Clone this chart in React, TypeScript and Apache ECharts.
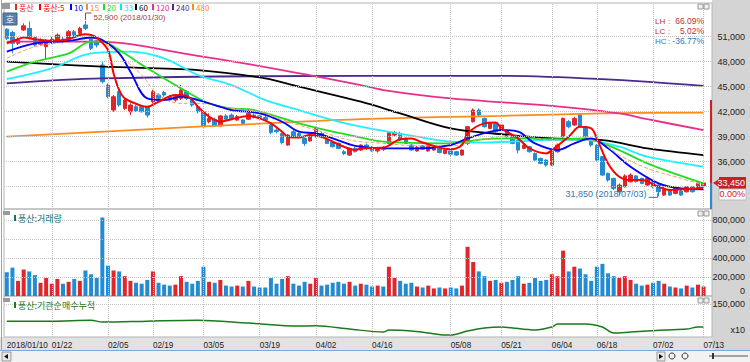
import React, { useEffect, useRef } from "react";
import * as echarts from "echarts";

// ---------- data ----------
const dates: string[] = [
  "2018/01/10","2018/01/11","2018/01/12","2018/01/15","2018/01/16","2018/01/17","2018/01/18","2018/01/19","2018/01/22","2018/01/23",
  "2018/01/24","2018/01/25","2018/01/26","2018/01/29","2018/01/30","2018/01/31","2018/02/01","2018/02/02","2018/02/05","2018/02/06",
  "2018/02/07","2018/02/08","2018/02/09","2018/02/12","2018/02/13","2018/02/14","2018/02/19","2018/02/20","2018/02/21","2018/02/22",
  "2018/02/23","2018/02/26","2018/02/27","2018/02/28","2018/03/02","2018/03/05","2018/03/06","2018/03/07","2018/03/08","2018/03/09",
  "2018/03/12","2018/03/13","2018/03/14","2018/03/15","2018/03/16","2018/03/19","2018/03/20","2018/03/21","2018/03/22","2018/03/23",
  "2018/03/26","2018/03/27","2018/03/28","2018/03/29","2018/03/30","2018/04/02","2018/04/03","2018/04/04","2018/04/05","2018/04/06",
  "2018/04/09","2018/04/10","2018/04/11","2018/04/12","2018/04/13","2018/04/16","2018/04/17","2018/04/18","2018/04/19","2018/04/20",
  "2018/04/23","2018/04/24","2018/04/25","2018/04/26","2018/04/27","2018/04/30","2018/05/02","2018/05/03","2018/05/04","2018/05/08",
  "2018/05/09","2018/05/10","2018/05/11","2018/05/14","2018/05/15","2018/05/16","2018/05/17","2018/05/18","2018/05/21","2018/05/23",
  "2018/05/24","2018/05/25","2018/05/28","2018/05/29","2018/05/30","2018/05/31","2018/06/01","2018/06/04","2018/06/05","2018/06/07",
  "2018/06/08","2018/06/11","2018/06/12","2018/06/14","2018/06/15","2018/06/18","2018/06/19","2018/06/20","2018/06/21","2018/06/22",
  "2018/06/25","2018/06/26","2018/06/27","2018/06/28","2018/06/29","2018/07/02","2018/07/03","2018/07/04","2018/07/05","2018/07/06",
  "2018/07/09","2018/07/10","2018/07/11","2018/07/12","2018/07/13"
];

const opens = [
  51900,51500,50200,51800,52000,50900,50100,49800,50300,50500,50700,50800,51600,51400,52400,50700,50500,47600,45200,42200,
  44400,42400,42000,42600,42600,42600,43200,44000,44300,43800,43400,43600,44400,43400,42600,42000,40800,41100,40300,41500,
  41600,41000,41000,41100,41600,41500,41300,40400,39800,39400,38000,39600,39400,38800,38500,39000,39400,38700,38300,38200,
  37200,36800,37600,37400,38000,37700,37300,37700,38200,39200,39400,38800,38000,37300,37900,37300,37400,37600,37000,37300,
  37200,36800,38200,40800,42200,41200,40000,40600,39800,39800,39000,38600,37600,37800,37000,36400,36200,35600,37200,39000,
  40800,40400,41600,40200,38600,38000,36600,34600,34000,32400,33000,33600,34300,34000,33200,33600,33200,32000,32600,32200,
  32500,32400,33000,32800,33100
];
const closes = [
  50800,50200,50600,52300,50900,50000,50500,50500,50700,51200,50500,51600,51200,52000,52000,49600,50000,45600,43800,43800,
  42800,43400,42800,42100,42000,41600,44400,43600,44000,43400,43800,44600,43600,42800,42000,40300,41200,40300,41500,41100,
  41200,41400,40600,41800,41300,41300,41000,39500,39600,38300,39200,39000,39000,38200,39200,40000,39000,38200,37800,37600,
  37000,37600,37200,38000,37600,37300,37700,37500,39500,39500,38600,38200,37400,37700,37500,37900,37700,37100,37400,36900,
  36800,37400,40200,42200,41600,40200,40600,39600,40400,39000,38200,37400,38000,37200,36200,35800,35600,37200,38000,41200,
  40200,41200,40200,39000,38000,36200,34400,33800,32800,33200,34300,34400,33600,33400,34000,33000,32400,32800,32000,32800,
  32000,33000,32400,33450,33450
];
const lows = [
  50600,49000,50000,51700,50700,49800,49900,48300,50100,50300,50200,50600,51000,51200,51800,49400,49700,45400,43600,42000,
  42600,42200,41600,42000,41900,41300,43000,43400,43800,43200,43200,43400,43400,42600,41800,40100,40600,40200,40200,41000,
  41100,40900,40500,41000,41200,41100,40800,39300,39400,38100,37900,38900,38800,37900,38400,38900,38800,38100,37700,37500,
  36800,36700,37100,37300,37400,37200,37100,37300,38100,39000,38500,38100,37300,37200,37400,37200,37300,37000,36900,36600,
  36700,36700,38000,40700,41400,40100,39900,39500,39700,38900,38100,37000,37500,37100,36100,35700,35400,35500,37100,38900,
  40000,40300,40100,38900,37800,36000,34300,33600,32600,32000,32900,33500,33500,33300,33100,32800,31850,31900,31900,32100,
  31900,32300,32300,32700,33000
];
const highs = [
  52000,51700,50900,52600,52800,51100,50800,50700,51000,51400,51000,51800,51800,52200,52900,51000,50700,48000,45400,44000,
  44600,43600,43000,42800,42800,42700,44600,44200,44500,44000,44000,45200,44600,43600,42800,42200,41800,41300,41600,41700,
  41800,41600,41100,42200,41800,41700,41500,40600,40000,39500,39300,39800,39500,38900,39300,40200,39600,38900,38500,38300,
  37400,37700,37800,38100,38200,37900,37800,37900,39600,39700,39600,38900,38100,37900,38000,38000,37800,37700,37500,37400,
  37300,37500,40300,42400,42400,41300,40800,40700,40500,39900,39100,38700,38100,37900,37100,36500,36300,37300,38200,41300,
  41000,41400,41800,40300,38700,38100,36700,34700,34100,33400,34500,34600,34400,34100,34200,33800,33300,33000,32700,32900,
  32600,33100,33100,33500,33600
];
const volumes = [
  250000,300000,160000,280000,260000,220000,140000,190000,130000,180000,130000,150000,180000,160000,270000,230000,190000,
  830000,
  320000,270000,260000,210000,160000,140000,130000,170000,260000,140000,120000,110000,120000,210000,150000,130000,160000,310000,
  150000,140000,170000,110000,100000,110000,100000,160000,100000,90000,90000,190000,130000,180000,210000,130000,110000,150000,
  130000,190000,110000,120000,140000,150000,130000,150000,110000,130000,
  120000,100000,110000,100000,310000,190000,160000,130000,140000,100000,90000,110000,80000,90000,80000,90000,80000,110000,
  520000,360000,260000,210000,160000,170000,140000,150000,170000,210000,130000,140000,190000,160000,170000,230000,210000,
  480000,260000,310000,290000,230000,160000,310000,340000,240000,210000,190000,210000,170000,130000,110000,120000,140000,
  160000,130000,100000,90000,80000,110000,90000,120000,100000
];

// moving averages at key trading days: [dayIndex, price]
const ma5: [number, number][] = [[0,50200],[2,50700],[3,50900],[5,50700],[8,50500],[11,50700],[13,51200],[14,51300],[15,51200],[16,50900],[18,49400],[19,46600],[20,44600],[21,43600],[24,42700],[25,42600],[27,43200],[30,44000],[32,43900],[33,43400],[34,42600],[36,41400],[38,40800],[40,41100],[43,41500],[45,41200],[47,40600],[49,39600],[50,39000],[52,38900],[54,39200],[56,39000],[58,38400],[60,37800],[62,37400],[63,37600],[67,37700],[70,38700],[72,38800],[74,38300],[79,37500],[81,38000],[82,39400],[85,40600],[87,40700],[88,40000],[91,38800],[93,37600],[96,37000],[97,37400],[100,39000],[102,40200],[104,40000],[105,38800],[107,35800],[109,34200],[111,33800],[113,33800],[116,33000],[118,32600],[120,32700],[123,32800],[124,32900]];
const ma10: [number, number][] = [[0,49200],[5,50200],[11,50500],[15,50900],[17,50600],[20,49000],[22,46800],[25,43600],[28,43400],[31,43800],[34,43400],[37,42800],[40,42200],[45,41800],[49,40800],[52,39600],[55,39400],[58,38800],[62,37900],[67,37600],[73,37600],[79,38000],[82,38800],[88,39800],[91,39600],[94,38200],[98,37400],[101,38200],[104,38800],[107,37600],[111,35400],[116,33400],[120,32800],[124,32700]];
const ma15: [number, number][] = [[0,48400],[5,49800],[11,50400],[15,50800],[17,50400],[20,48800],[24,46400],[27,44000],[31,43000],[34,43000],[40,42400],[45,42000],[50,40800],[56,39600],[61,38600],[67,38200],[74,37900],[79,37900],[84,38600],[91,39200],[97,38600],[102,38600],[106,38200],[109,36800],[114,35200],[120,34000],[124,33200]];
const ma20: [number, number][] = [[0,46800],[5,48000],[11,49000],[15,50400],[17,50400],[20,49400],[25,47200],[31,44800],[36,43000],[40,42400],[44,42200],[52,40600],[58,39600],[61,39200],[67,38400],[79,38200],[85,38700],[91,38800],[97,38700],[103,38800],[106,38200],[109,37400],[114,35800],[120,34300],[124,33400]];
const ma33: [number, number][] = [[0,45900],[8,47200],[15,49000],[22,49200],[28,48400],[34,46400],[40,45200],[46,43400],[52,42200],[58,41000],[63,40200],[73,39000],[79,38400],[85,38300],[97,38600],[103,38600],[109,37800],[114,36600],[124,35400]];
const ma60: [number, number][] = [[0,48000],[17,47400],[34,47000],[46,46000],[52,45000],[63,43200],[70,41800],[79,40000],[88,39300],[97,38800],[106,38600],[114,37600],[124,36800]];
const ma120: [number, number][] = [[0,50400],[16,50400],[34,48700],[49,47000],[63,45200],[67,44600],[79,43600],[97,42700],[109,41800],[114,41100],[124,39800]];
const ma240: [number, number][] = [[0,45400],[17,46000],[63,46300],[88,46300],[106,45900],[124,45100]];
const ma480: [number, number][] = [[0,39000],[34,40200],[63,41100],[88,41500],[106,41800],[124,41900]];

// institutional cumulative net buying (x10), key days
const instCum: [number, number][] = [[0,72000],[8,72000],[15,76500],[17,67500],[25,72000],[34,76500],[43,63000],[52,49500],[55,50900],[61,36000],[67,22500],[68,31500],[72,27000],[75,18000],[78,9000],[79,9000],[82,27000],[85,40500],[88,45000],[94,31500],[97,45000],[98,58500],[103,58500],[106,45000],[108,18000],[111,22500],[117,31500],[121,36000],[123,45000],[124,45000]];

const priceTicks = [36000, 39000, 42000, 45000, 48000, 51000];
const priceGridLines = [33000, 36000, 39000, 42000, 45000, 48000, 51000];
const volumeTicks = [200000, 400000, 600000, 800000];
const volumeZeroLabel = 0;
const instTicks = [150000];
const dateLabelIdx = [0, 8, 18, 26, 35, 45, 55, 65, 79, 88, 97, 105, 115, 124];

const highIdx = 14, highVal = 52900;
const lowIdx = 116, lowVal = 31850;
const lastClose = 33450;
const rangeStats = [
  { k: "LH", v: "66.09%" },
  { k: "LC", v: "5.02%" },
  { k: "HC", v: "-36.77%" },
];

const legendItems = [
  { t: "풍산", c: "#e0262b" },
  { t: "풍산:5", c: "#ff0000" },
  { t: "10", c: "#0000ff" },
  { t: "15", c: "#f08a3c" },
  { t: "20", c: "#22dd22" },
  { t: "33", c: "#11e5f0" },
  { t: "60", c: "#000000" },
  { t: "120", c: "#e8308a" },
  { t: "240", c: "#4a2a8a" },
  { t: "480", c: "#ff8c1a" },
];

const RED = "#e0262b";
const BLUE = "#238bd1";
const NUM_FONT = "Liberation Sans";
const KR_FONT = "Noto Sans CJK KR";

const fmt = (v: number) => v.toLocaleString("en-US");

export default function App() {
  const ref = useRef<HTMLDivElement>(null);

  useEffect(() => {
    const chart = echarts.init(ref.current!, null, { renderer: "svg" });
    const cats = [...dates, ""];
    const candleData = dates.map((_, i) => [opens[i], closes[i], lows[i], highs[i]]);
    const volData = volumes.map((v, i) => ({
      value: v,
      itemStyle: { color: closes[i] >= opens[i] ? RED : BLUE },
    }));
    const vLines = dateLabelIdx.filter((i) => i > 0).map((i) => ({ xAxis: dates[i] }));
    const gridLine = (extra: any[]) => ({
      silent: true,
      symbol: ["none", "none"],
      label: { show: false },
      emphasis: { disabled: true },
      animation: false,
      lineStyle: { color: "#c4c4c4", type: "dotted", width: 1 },
      data: [...vLines, ...extra],
    });
    const maLine = (name: string, data: [number, number][], color: string, width = 1.8, dashed = false, smooth: number | boolean = 0.35) => ({
      name,
      type: "line",
      xAxisIndex: 0,
      yAxisIndex: 0,
      data,
      showSymbol: false,
      smooth,
      z: 4,
      lineStyle: { color, width, type: dashed ? "dashed" : "solid" },
      silent: true,
    });
    const gridBase = { left: 4, right: 38, show: true, borderColor: "#b4b4b4", borderWidth: 1 };
    const yBase = {
      type: "value",
      position: "right",
      scale: true,
      splitLine: { show: false },
      axisLine: { show: false },
      axisTick: { show: false },
    };
    const yLabel = (vals: number[]) => ({
      customValues: vals,
      formatter: (v: number) => fmt(v),
      align: "right",
      margin: 33,
      fontSize: 9,
      fontFamily: NUM_FONT,
      color: "#222",
    });

    chart.setOption({
      animation: false,
      textStyle: { fontFamily: NUM_FONT },
      grid: [
        { ...gridBase, top: 3, height: 206 },
        { ...gridBase, top: 209, height: 87 },
        { ...gridBase, top: 296, height: 41 },
      ],
      xAxis: [0, 1, 2].map((g) => ({
        type: "category",
        gridIndex: g,
        data: cats,
        boundaryGap: true,
        axisLine: { show: false },
        axisTick: { show: false },
        splitLine: { show: false },
        axisLabel:
          g === 2
            ? {
                show: true,
                interval: (idx: number) => dateLabelIdx.includes(idx),
                formatter: (v: string, idx: number) => (idx === 0 ? v : v.slice(5)),
                align: "left",
                margin: 4,
                fontSize: 8.2,
                fontFamily: NUM_FONT,
                color: "#222",
              }
            : { show: false },
      })),
      yAxis: [
        { ...yBase, gridIndex: 0, min: 30330, max: 55040, axisLabel: yLabel(priceTicks) },
        { ...yBase, gridIndex: 1, min: 0, max: 920000, axisLabel: yLabel(volumeTicks) },
        { ...yBase, gridIndex: 2, min: 0, max: 186000, axisLabel: yLabel(instTicks) },
      ],
      series: [
        {
          name: "풍산",
          type: "candlestick",
          xAxisIndex: 0,
          yAxisIndex: 0,
          data: candleData,
          barWidth: 4,
          z: 3,
          silent: true,
          itemStyle: { color: RED, color0: BLUE, borderColor: RED, borderColor0: BLUE, borderWidth: 1 },
          markLine: gridLine(priceGridLines.map((v) => ({ yAxis: v }))),
        },
        maLine("480", ma480, "#ff8c1a"),
        maLine("240", ma240, "#4a2a8a"),
        maLine("120", ma120, "#e8308a"),
        maLine("60", ma60, "#000000"),
        maLine("33", ma33, "#22eeff"),
        maLine("20", ma20, "#22dd22"),
        maLine("15", ma15, "#f4a070", 1, true),
        maLine("10", ma10, "#0000ff"),
        maLine("풍산:5", ma5, "#ff0000", 2),
        {
          name: "거래량",
          type: "bar",
          xAxisIndex: 1,
          yAxisIndex: 1,
          data: volData,
          barWidth: 4,
          silent: true,
          markLine: gridLine(volumeTicks.map((v) => ({ yAxis: v }))),
        },
        {
          name: "기관순매수누적",
          type: "line",
          xAxisIndex: 2,
          yAxisIndex: 2,
          data: instCum,
          showSymbol: false,
          smooth: 0.3,
          silent: true,
          lineStyle: { color: "#1b7a1b", width: 1.5 },
          markLine: gridLine(instTicks.map((v) => ({ yAxis: v }))),
        },
      ],
    });

    const toPx = (i: number, v: number) =>
      chart.convertToPixel({ gridIndex: 0 } as any, [dates[i], v]) as number[];
    const [hx, hy] = toPx(highIdx, highVal);
    const [lx, ly] = toPx(lowIdx, lowVal);
    const [, cy] = toPx(124, lastClose);

    const g: any[] = [];
    // backgrounds
    g.push({ type: "rect", z: -10, shape: { x: 712, y: 0, width: 38, height: 351 }, style: { fill: "#d4d4d4" } });
    g.push({ type: "rect", z: -10, shape: { x: 0, y: 337, width: 712, height: 14 }, style: { fill: "#e2e2e2" } });
    g.push({ type: "rect", z: -10, shape: { x: 0, y: 351, width: 750, height: 11 }, style: { fill: "#f2f2f2" } });
    g.push({ type: "line", z: 50, shape: { x1: 1.5, y1: 0, x2: 1.5, y2: 351 }, style: { stroke: "#7fa7d8", lineWidth: 1 } });
    g.push({ type: "line", z: 50, shape: { x1: 0, y1: 350.5, x2: 750, y2: 350.5 }, style: { stroke: "#7fa7d8", lineWidth: 1 } });
    // scrollbar controls
    g.push({ type: "rect", z: 50, shape: { x: 2, y: 352, width: 9, height: 9 }, style: { fill: "#e8e8e8", stroke: "#999", lineWidth: 1 } });
    g.push({ type: "polygon", z: 51, shape: { points: [[4, 356.5], [8, 354], [8, 359]] }, style: { fill: "#111" } });
    g.push({ type: "rect", z: 50, shape: { x: 657, y: 352, width: 8, height: 9 }, style: { fill: "#e8e8e8", stroke: "#999", lineWidth: 1 } });
    g.push({ type: "polygon", z: 51, shape: { points: [[663, 356.5], [659, 354], [659, 359]] }, style: { fill: "#111" } });
    g.push({ type: "circle", z: 50, shape: { cx: 672, cy: 356, r: 3 }, style: { fill: "none", stroke: "#333", lineWidth: 1 } });
    g.push({ type: "circle", z: 50, shape: { cx: 685, cy: 356, r: 3 }, style: { fill: "none", stroke: "#333", lineWidth: 1 } });
    g.push({ type: "line", z: 50, shape: { x1: 709, y1: 356, x2: 748, y2: 356 }, style: { stroke: "#555", lineWidth: 1 } });
    g.push({ type: "rect", z: 51, shape: { x: 712, y: 353, width: 2, height: 6 }, style: { fill: "#333" } });
    // legend
    g.push({ type: "rect", z: 50, shape: { x: 2, y: 3, width: 8, height: 6 }, style: { fill: "#9a9a9a" } });
    const legendX = [15, 39, 70, 86, 103, 120, 135, 152, 172, 192];
    legendItems.forEach((it, k) => {
      const x = legendX[k];
      g.push({ type: "rect", z: 50, shape: { x, y: 4, width: 2, height: 6 }, style: { fill: it.c } });
      g.push({
        type: "text", z: 50, x: x + 4, y: 7,
        style: { text: it.t, fill: it.c, fontSize: 8, fontFamily: KR_FONT, verticalAlign: "middle", align: "left" },
      });
    });
    // 호 box
    g.push({ type: "rect", z: 50, shape: { x: 3, y: 13, width: 14, height: 12 }, style: { fill: "#5b7fa8", stroke: "#3e5f86", lineWidth: 1 } });
    g.push({ type: "text", z: 51, x: 10, y: 19.5, style: { text: "호", fill: "#fff", fontSize: 9, fontFamily: KR_FONT, align: "center", verticalAlign: "middle" } });
    // high annotation
    g.push({ type: "polyline", z: 50, shape: { points: [[hx, hy - 1], [hx, 13], [hx + 6, 13]] }, style: { stroke: "#b03a3a", lineWidth: 1, fill: "none" } });
    g.push({ type: "text", z: 50, x: hx + 8, y: 17.5, style: { text: `${fmt(highVal)} (${dates[highIdx]})`, fill: "#b03a3a", fontSize: 8, fontFamily: NUM_FONT, verticalAlign: "middle" } });
    // low annotation
    g.push({ type: "polyline", z: 50, shape: { points: [[lx - 10, ly + 1], [lx - 1, ly + 1], [lx - 1, ly - 3]] }, style: { stroke: "#2a7ab8", lineWidth: 1, fill: "none" } });
    g.push({ type: "text", z: 50, x: lx - 12, y: ly - 2, style: { text: `${fmt(lowVal)} (${dates[lowIdx]})`, fill: "#2a7ab8", fontSize: 9, fontFamily: NUM_FONT, align: "right", verticalAlign: "middle" } });
    // LH / LC / HC
    rangeStats.forEach((s, k) => {
      const col = k < 2 ? "#c03030" : "#2a7ab8";
      const y = 21 + k * 10;
      g.push({ type: "text", z: 50, x: 655, y, style: { text: s.k, fill: col, fontSize: 8, fontFamily: NUM_FONT, verticalAlign: "middle" } });
      g.push({ type: "text", z: 50, x: 668, y, style: { text: ":", fill: col, fontSize: 8, fontFamily: NUM_FONT, verticalAlign: "middle" } });
      g.push({ type: "text", z: 50, x: 704, y, style: { text: s.v, fill: col, fontSize: 8.5, fontFamily: NUM_FONT, align: "right", verticalAlign: "middle" } });
    });
    // panel buttons
    [4, 211, 298].forEach((y) => {
      g.push({ type: "rect", z: 50, shape: { x: 698, y, width: 5, height: 5 }, style: { fill: "#eee", stroke: "#999", lineWidth: 1 } });
      g.push({ type: "rect", z: 50, shape: { x: 704, y, width: 5, height: 5 }, style: { fill: "#eee", stroke: "#999", lineWidth: 1 } });
    });
    // volume panel title
    g.push({ type: "rect", z: 50, shape: { x: 3, y: 211, width: 7, height: 4 }, style: { fill: "#9a9a9a" } });
    g.push({ type: "rect", z: 50, shape: { x: 14, y: 215, width: 2, height: 6 }, style: { fill: "#137070" } });
    g.push({ type: "text", z: 50, x: 18, y: 218, style: { text: "풍산:거래량", fill: "#137070", fontSize: 9, fontFamily: KR_FONT, verticalAlign: "middle" } });
    g.push({ type: "text", z: 50, x: 745, y: 291, style: { text: fmt(volumeZeroLabel), fill: "#222", fontSize: 9, fontFamily: NUM_FONT, align: "right", verticalAlign: "middle" } });
    // bottom panel title
    g.push({ type: "rect", z: 50, shape: { x: 3, y: 298, width: 7, height: 4 }, style: { fill: "#9a9a9a" } });
    g.push({ type: "rect", z: 50, shape: { x: 14, y: 302, width: 2, height: 6 }, style: { fill: "#1b7a1b" } });
    g.push({ type: "text", z: 50, x: 18, y: 305, style: { text: "풍산:기관순매수누적", fill: "#1b7a1b", fontSize: 9, fontFamily: KR_FONT, verticalAlign: "middle" } });
    g.push({ type: "text", z: 50, x: 745, y: 330, style: { text: "x10", fill: "#222", fontSize: 9, fontFamily: NUM_FONT, align: "right", verticalAlign: "middle" } });
    // current price marker
    g.push({ type: "rect", z: 50, shape: { x: 710, y: 100, width: 2, height: cy - 100 }, style: { fill: "#d02020" } });
    g.push({ type: "rect", z: 50, shape: { x: 710, y: cy, width: 2, height: 209 - cy }, style: { fill: "#2a8bd0" } });
    g.push({ type: "polygon", z: 50, shape: { points: [[713, cy], [719, cy - 4], [719, cy + 4]] }, style: { fill: "#d02020" } });
    g.push({ type: "rect", z: 50, shape: { x: 719, y: cy - 6, width: 27, height: 12 }, style: { fill: "#c81e28" } });
    g.push({ type: "text", z: 51, x: 745, y: cy, style: { text: fmt(lastClose), fill: "#fff", fontSize: 9, fontFamily: NUM_FONT, align: "right", verticalAlign: "middle" } });
    g.push({ type: "rect", z: 50, shape: { x: 719, y: cy + 6, width: 27, height: 11 }, style: { fill: "#fff", stroke: "#bbb", lineWidth: 1 } });
    g.push({ type: "text", z: 51, x: 745, y: cy + 11.5, style: { text: "0.00%", fill: "#d02020", fontSize: 9, fontFamily: NUM_FONT, align: "right", verticalAlign: "middle" } });

    chart.setOption({ graphic: g });
    return () => chart.dispose();
  }, []);

  return (
    <div
      ref={ref}
      style={{ position: "fixed", left: 0, top: 0, width: 750, height: 362, background: "#fff" }}
    />
  );
}
